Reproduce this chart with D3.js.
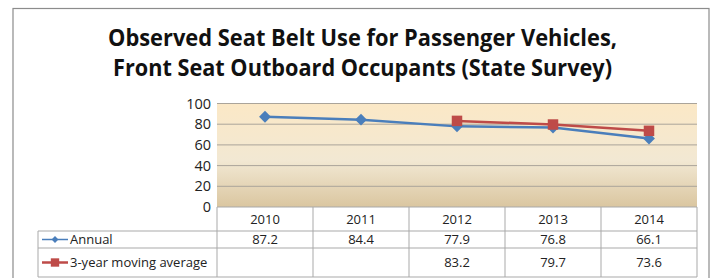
<!DOCTYPE html>
<html>
<head>
<meta charset="utf-8">
<script src="https://cdn.jsdelivr.net/npm/d3@7"></script>
<style>
  body { margin: 0; background: #fff; }
  svg { display: block; font-family: "Open Sans", "Noto Sans", sans-serif; }
</style>
</head>
<body>
<div id="chart"></div>
<script>
// data
var years = ["2010", "2011", "2012", "2013", "2014"];
var annual = [87.2, 84.4, 77.9, 76.8, 66.1];
var movingAvg = [null, null, 83.2, 79.7, 73.6];
var seriesNames = ["Annual", "3-year moving average"];
var yTicks = [0, 20, 40, 60, 80, 100];
var titleLines = ["Observed Seat Belt Use for Passenger Vehicles,",
                  "Front Seat Outboard Occupants (State Survey)"];

var width = 715, height = 278;
var plot = {left: 217, right: 697, top: 103.5, bottom: 207};
var rowH = [24, 17, 29]; // header, annual, moving avg
var legendLeft = 38;

var svg = d3.select("#chart").append("svg")
    .attr("width", width)
    .attr("height", height);

// outer frame
svg.append("rect")
    .attr("x", 13).attr("y", 8.5)
    .attr("width", 696).attr("height", 290)
    .attr("fill", "#fff")
    .attr("stroke", "#8c8c8c")
    .attr("stroke-width", 1.2);

// title
svg.append("g").selectAll("text")
  .data(titleLines)
  .enter().append("text")
    .attr("x", 362.5)
    .attr("y", function(d, i) { return 46 + i * 29.5; })
    .attr("text-anchor", "middle")
    .attr("font-size", 23)
    .attr("font-weight", "bold")
    .attr("fill", "#111")
    .attr("textLength", function(d, i) { return i === 0 ? 509 : 499; })
    .attr("lengthAdjust", "spacingAndGlyphs")
    .text(function(d) { return d; });

var x = d3.scaleBand().domain(years).range([plot.left, plot.right]);
var y = d3.scaleLinear().domain([0, 100]).range([plot.bottom, plot.top]);

var defs = svg.append("defs");
var grad = defs.append("linearGradient")
    .attr("id", "bg").attr("x1", 0).attr("y1", 0).attr("x2", 0).attr("y2", 1);
grad.append("stop").attr("offset", "0%").attr("stop-color", "#fbe8c6");
grad.append("stop").attr("offset", "55%").attr("stop-color", "#f2e8d3");
grad.append("stop").attr("offset", "100%").attr("stop-color", "#dac6a0");

svg.append("rect")
    .attr("x", plot.left).attr("y", plot.top)
    .attr("width", plot.right - plot.left)
    .attr("height", plot.bottom - plot.top)
    .attr("fill", "url(#bg)");

// gridlines
svg.append("g").selectAll("line")
  .data(yTicks.filter(function(d) { return d > 0; }))
  .enter().append("line")
    .attr("x1", plot.left).attr("x2", plot.right)
    .attr("y1", function(d) { return y(d); })
    .attr("y2", function(d) { return y(d); })
    .attr("stroke", "#aaa49a")
    .attr("stroke-width", 1);

// y axis
var yAxis = svg.append("g")
    .attr("transform", "translate(" + plot.left + ",0)")
    .call(d3.axisLeft(y).tickValues(yTicks).tickSize(0).tickPadding(6));
yAxis.select(".domain").remove();
yAxis.selectAll("text")
    .attr("font-size", 14.5)
    .attr("font-family", "Open Sans, Noto Sans, sans-serif")
    .attr("fill", "#222");

var cx = function(i) { return x(years[i]) + x.bandwidth() / 2; };

var line = d3.line()
    .defined(function(d) { return d != null; })
    .x(function(d, i) { return cx(i); })
    .y(function(d) { return y(d); });

var blue = "#4a7ebb", red = "#be4b48";

svg.append("path").datum(annual)
    .attr("d", line).attr("fill", "none")
    .attr("stroke", blue).attr("stroke-width", 2.5);
svg.append("path").datum(movingAvg)
    .attr("d", line).attr("fill", "none")
    .attr("stroke", red).attr("stroke-width", 2.5);

var diamond = d3.symbol().type(d3.symbolDiamond2).size(90);
var square = d3.symbol().type(d3.symbolSquare).size(110);

svg.append("g").selectAll("path")
  .data(annual)
  .enter().append("path")
    .attr("d", diamond)
    .attr("transform", function(d, i) { return "translate(" + cx(i) + "," + y(d) + ")"; })
    .attr("fill", blue);

svg.append("g").selectAll("path")
  .data(movingAvg.map(function(d, i) { return {v: d, i: i}; }).filter(function(d) { return d.v != null; }))
  .enter().append("path")
    .attr("d", square)
    .attr("transform", function(d) { return "translate(" + cx(d.i) + "," + y(d.v) + ")"; })
    .attr("fill", red);

// data table
var table = svg.append("g");
var gridColor = "#a9a9a9";
var rowTop = [plot.bottom, plot.bottom + rowH[0], plot.bottom + rowH[0] + rowH[1]];
var rowBottom = rowTop.map(function(t, i) { return t + rowH[i]; });

// horizontal lines
table.append("line")
    .attr("x1", plot.left).attr("x2", plot.right)
    .attr("y1", rowTop[0]).attr("y2", rowTop[0])
    .attr("stroke", gridColor);
[rowTop[1], rowTop[2], rowBottom[2]].forEach(function(yy) {
  table.append("line")
      .attr("x1", legendLeft).attr("x2", plot.right)
      .attr("y1", yy).attr("y2", yy)
      .attr("stroke", gridColor);
});
// vertical lines
table.append("line")
    .attr("x1", legendLeft).attr("x2", legendLeft)
    .attr("y1", rowTop[1]).attr("y2", rowBottom[2])
    .attr("stroke", gridColor);
years.forEach(function(yr, i) {
  var xx = x(yr);
  table.append("line")
      .attr("x1", xx).attr("x2", xx)
      .attr("y1", rowTop[0]).attr("y2", rowBottom[2])
      .attr("stroke", gridColor);
});
table.append("line")
    .attr("x1", plot.right).attr("x2", plot.right)
    .attr("y1", rowTop[0]).attr("y2", rowBottom[2])
    .attr("stroke", gridColor);

var fmt = function(d) { return d == null ? "" : d.toFixed(1); };
var cellText = function(vals, row) {
  table.append("g").selectAll("text")
    .data(vals)
    .enter().append("text")
      .attr("x", function(d, i) { return cx(i); })
      .attr("y", (rowTop[row] + rowBottom[row]) / 2)
      .attr("dy", "0.35em")
      .attr("text-anchor", "middle")
      .attr("font-size", 13)
      .attr("fill", "#222")
      .text(function(d) { return typeof d === "string" ? d : fmt(d); });
};
cellText(years, 0);
cellText(annual, 1);
cellText(movingAvg, 2);

// legend keys
[[blue, 1], [red, 2]].forEach(function(k, j) {
  var yy = (rowTop[k[1]] + rowBottom[k[1]]) / 2;
  var lg = table.append("g");
  lg.append("line")
      .attr("x1", legendLeft + 4).attr("x2", legendLeft + 30)
      .attr("y1", yy).attr("y2", yy)
      .attr("stroke", k[0]).attr("stroke-width", j === 0 ? 1.5 : 2.5);
  lg.append("path")
      .attr("d", j === 0 ? d3.symbol().type(d3.symbolDiamond2).size(30) : d3.symbol().type(d3.symbolSquare).size(70))
      .attr("transform", "translate(" + (legendLeft + 17) + "," + yy + ")")
      .attr("fill", k[0]);
  lg.append("text")
      .attr("x", legendLeft + 32)
      .attr("y", yy)
      .attr("dy", "0.35em")
      .attr("font-size", 13)
      .attr("fill", "#222")
      .text(seriesNames[j]);
});
</script>
</body>
</html>
